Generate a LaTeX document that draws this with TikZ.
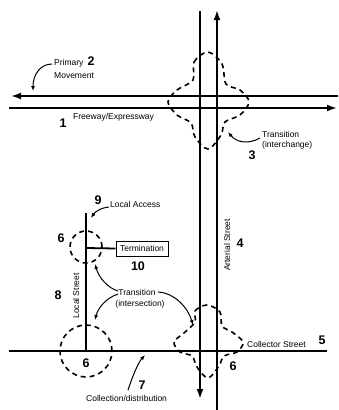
\documentclass[tikz,border=0pt]{standalone}
\usepackage{fontspec}
\setmainfont{Liberation Sans}
\usetikzlibrary{arrows.meta}
\begin{document}
\begin{tikzpicture}[x=1pt,y=-1pt,
 road/.style={line width=1.8pt},
 ring/.style={line width=1.6pt, dash pattern=on 5pt off 4pt},
 lbl/.style={font=\fontsize{8.5}{9.5}\selectfont, inner sep=0pt},
 num/.style={font=\fontsize{12.5}{12.5}\selectfont\bfseries, inner sep=0pt},
 callout/.style={line width=1pt, -{Latex[length=5pt,width=4pt]}},
 bigtip/.style={-{Latex[length=10pt,width=7pt]}}
]
\useasboundingbox (0,0) rectangle (338,410);
% road end points
\coordinate (fwUL) at (11,96);  \coordinate (fwUR) at (338,96);
\coordinate (fwLL) at (9,108);  \coordinate (fwLR) at (337,108);
\coordinate (arLT) at (200,11); \coordinate (arLB) at (200,399);
\coordinate (arRT) at (217,10); \coordinate (arRB) at (217,410);
\coordinate (colL) at (9,351);  \coordinate (colR) at (327,351);
\coordinate (locT) at (86,213); \coordinate (locB) at (86,351);
\coordinate (locJ) at (86,248);
% roads
\draw[road,bigtip] (fwUR) -- (fwUL);
\draw[road,bigtip] (fwLL) -- (fwLR);
\draw[road,bigtip] (arLT) -- (arLB);
\draw[road,bigtip] (arRB) -- (arRT);
\draw[road] (colL) -- (colR);
\draw[road] (locT) -- (locB);
\node[lbl, draw, line width=1pt, minimum width=52pt, minimum height=15pt] (term) at (142,248.5) {Termination};
\draw[road] (locJ) -- (term.west);
% dashed transition areas
\draw[ring] (86,247) circle[radius=16pt];
\draw[ring] (86,351) circle[radius=26pt];
\draw[ring] plot[smooth cycle, tension=0.55] coordinates {
 (193,80) (194,62) (208,52) (222,64) (226,84) (240,90) (249,102) (240,115)
 (225,122) (221,135) (208,149) (195,137) (191,123) (177,115) (168,102) (177,90)};
\draw[ring] plot[smooth cycle, tension=0.55] coordinates {
 (195,322) (195,311) (207,305) (220,312) (222,326) (232,332) (243,342) (237,352)
 (224,356) (219,366) (208,378) (197,367) (192,356) (180,352) (174,342) (184,333)};
% labels
\node[lbl, anchor=west] (prim) at (54,63) {Primary};
\node[lbl, anchor=west] (mov) at (54,76) {Movement};
\node[num] (n2) at (91,61) {2};
\node[lbl, anchor=west] (fw) at (73,117) {Freeway/Expressway};
\node[num] (n1) at (63,123) {1};
\node[lbl, anchor=west] (tr1) at (262,134) {Transition};
\node[lbl, anchor=west] (tr1b) at (262,145) {(interchange)};
\node[num] (n3) at (252,155) {3};
\node[lbl, anchor=west] (la) at (110,204) {Local Access};
\node[num] (n9) at (98,200) {9};
\node[num] (n6a) at (61,238) {6};
\node[num] (n10) at (138,266) {10};
\node[num] (n8) at (58,295) {8};
\node[lbl, rotate=90] (ls) at (76,296) {Local Street};
\node[lbl] (tr2) at (137,292) {Transition};
\node[lbl] (tr2b) at (140,304) {(intersection)};
\node[lbl, rotate=90] (as) at (227,245) {Arterial Street};
\node[num] (n4) at (240,243) {4};
\node[lbl, anchor=west] (cs) at (247,344) {Collector Street};
\node[num] (n5) at (322,340) {5};
\node[num] (n6b) at (233,366) {6};
\node[num] (n6c) at (86,363) {6};
\node[num] (n7) at (142,385) {7};
\node[lbl, anchor=west] (cd) at (86,398) {Collection/distribution};
% callout arrows
\coordinate (pmS) at (52,64);   \coordinate (pmE) at (33,91);
\coordinate (icS) at (260,138); \coordinate (icE) at (228,132);
\coordinate (laS) at (109,207); \coordinate (laE) at (91,218);
\coordinate (t2a) at (118,291); \coordinate (t2aE) at (95,264);
\coordinate (t2b) at (118,294); \coordinate (t2bE) at (95,320);
\coordinate (t2c) at (158,292); \coordinate (t2cE) at (193,325);
\coordinate (cdS) at (128,390); \coordinate (cdE) at (145,355);
\draw[callout] (pmS) .. controls (40,64) and (33,75) .. (pmE);
\draw[callout] (icS) .. controls (248,145) and (236,142) .. (icE);
\draw[callout] (laS) .. controls (100,208) and (95,212) .. (laE);
\draw[callout] (t2a) .. controls (108,288) and (99,278) .. (t2aE);
\draw[callout] (t2b) .. controls (106,298) and (98,308) .. (t2bE);
\draw[callout] (t2c) .. controls (175,293) and (188,308) .. (t2cE);
\draw[callout] (cdS) .. controls (133,375) and (138,363) .. (cdE);
\end{tikzpicture}
\end{document}
